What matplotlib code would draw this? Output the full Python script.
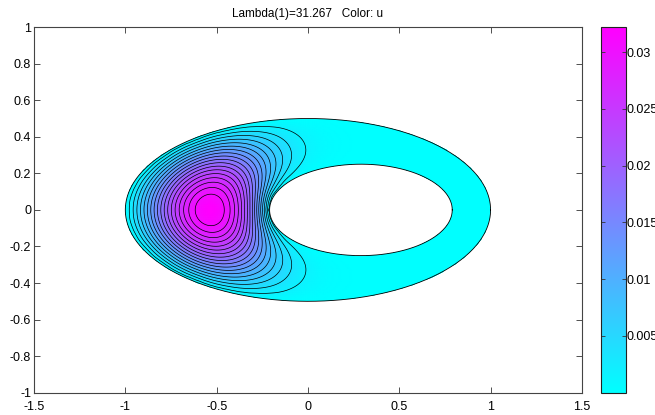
import numpy as np
import matplotlib
matplotlib.use('Agg')
import matplotlib.pyplot as plt
from matplotlib.path import Path
from matplotlib.patches import PathPatch

plt.rcParams['font.family'] = ['Liberation Sans', 'DejaVu Sans']

# domain: outer ellipse with an elliptical hole
outer_center = (0.0, 0.0)
outer_axes = (1.0, 0.5)
hole_center = (0.29, 0.0)
hole_axes = (0.5, 0.25)

lambda_1 = 31.267
u_max = 0.0322
n_levels = 20

x_ticks = [-1.5, -1, -0.5, 0, 0.5, 1, 1.5]
x_labels = ['-1.5', '-1', '-0.5', '0', '0.5', '1', '1.5']
y_ticks = [-1, -0.8, -0.6, -0.4, -0.2, 0, 0.2, 0.4, 0.6, 0.8, 1]
y_labels = ['-1', '-0.8', '-0.6', '-0.4', '-0.2', '0', '0.2', '0.4', '0.6', '0.8', '1']
cbar_ticks = [0.005, 0.01, 0.015, 0.02, 0.025, 0.03]
cbar_labels = ['0.005', '0.01', '0.015', '0.02', '0.025', '0.03']


# first Dirichlet eigenfunction on a grid, by shifted inverse iteration + CG
h = 0.01
xs = np.linspace(-1.04, 1.04, 209)
ys = np.linspace(-0.54, 0.54, 109)
X, Y = np.meshgrid(xs, ys)
inside = ((X - outer_center[0]) / outer_axes[0])**2 + ((Y - outer_center[1]) / outer_axes[1])**2 < 1
inside &= ((X - hole_center[0]) / hole_axes[0])**2 + ((Y - hole_center[1]) / hole_axes[1])**2 > 1


def lap(u):
    v = 4 * u
    v[1:] -= u[:-1]
    v[:-1] -= u[1:]
    v[:, 1:] -= u[:, :-1]
    v[:, :-1] -= u[:, 1:]
    return v / h**2 * inside


shift = 25.0


def op(u):
    return lap(u) - shift * u


def cg(b, x0):
    x = x0.copy()
    r = b - op(x)
    p = r.copy()
    rs = np.sum(r * r)
    bn = np.sqrt(np.sum(b * b))
    for _ in range(4000):
        Ap = op(p)
        alpha = rs / np.sum(p * Ap)
        x += alpha * p
        r -= alpha * Ap
        rs_new = np.sum(r * r)
        if np.sqrt(rs_new) < 1e-9 * bn:
            break
        p = r + (rs_new / rs) * p
        rs = rs_new
    return x


u = inside * np.exp(-((X + 0.5)**2 + Y**2) / 0.1)
u /= np.linalg.norm(u)
for _ in range(10):
    u = cg(u, u)
    u /= np.linalg.norm(u)
if u.sum() < 0:
    u = -u
U = u / u.max() * u_max

fig = plt.figure(figsize=(6.55, 4.15), dpi=100)
ax = fig.add_axes([0.0519, 0.0537, 0.8365, 0.881])

t = np.linspace(0, 2 * np.pi, 400)
ox = outer_center[0] + outer_axes[0] * np.cos(t)
oy = outer_center[1] + outer_axes[1] * np.sin(t)
ix = hole_center[0] + hole_axes[0] * np.cos(t)
iy = hole_center[1] + hole_axes[1] * np.sin(t)
verts = np.concatenate([np.c_[ox, oy], np.c_[ix[::-1], iy[::-1]]])
codes = np.full(len(verts), Path.LINETO)
codes[0] = Path.MOVETO
codes[len(t)] = Path.MOVETO
domain = PathPatch(Path(verts, codes), facecolor='none', edgecolor='none',
                   transform=ax.transData)
ax.add_patch(domain)

mesh = ax.pcolormesh(X, Y, U, shading='gouraud', cmap='cool', vmin=0, vmax=u_max)
mesh.set_clip_path(domain)
levels = np.linspace(0, U.max(), n_levels)[1:-1]
cs = ax.contour(X, Y, U, levels=levels, colors='k', linewidths=0.5)
cs.set_clip_path(domain)
ax.plot(ox, oy, color='k', lw=0.6)
ax.plot(ix, iy, color='k', lw=0.6)

ax.set_xlim(-1.5, 1.5)
ax.set_ylim(-1, 1)
ax.set_xticks(x_ticks)
ax.set_xticklabels(x_labels)
ax.set_yticks(y_ticks)
ax.set_yticklabels(y_labels)
ax.tick_params(direction='in', top=True, right=True, length=4, width=0.6,
               labelsize=9, color='#333333')
ax.tick_params(axis='x', pad=6)
ax.tick_params(axis='y', pad=2)
for s in ax.spines.values():
    s.set_linewidth(0.8)
    s.set_color('#444444')
ax.set_title('Lambda(1)=%.3f   Color: u' % lambda_1, fontsize=8.5, pad=7)

cax = fig.add_axes([0.9176, 0.0537, 0.0382, 0.881])
cb = fig.colorbar(mesh, cax=cax, ticks=cbar_ticks)
cb.set_ticklabels(cbar_labels)
cb.ax.tick_params(direction='in', left=True, right=True, length=3, width=0.6,
                  labelsize=9, pad=0.5, color='#333333')
cb.outline.set_linewidth(0.8)
cb.outline.set_edgecolor('#222222')

fig.savefig('out.png', dpi=100)
